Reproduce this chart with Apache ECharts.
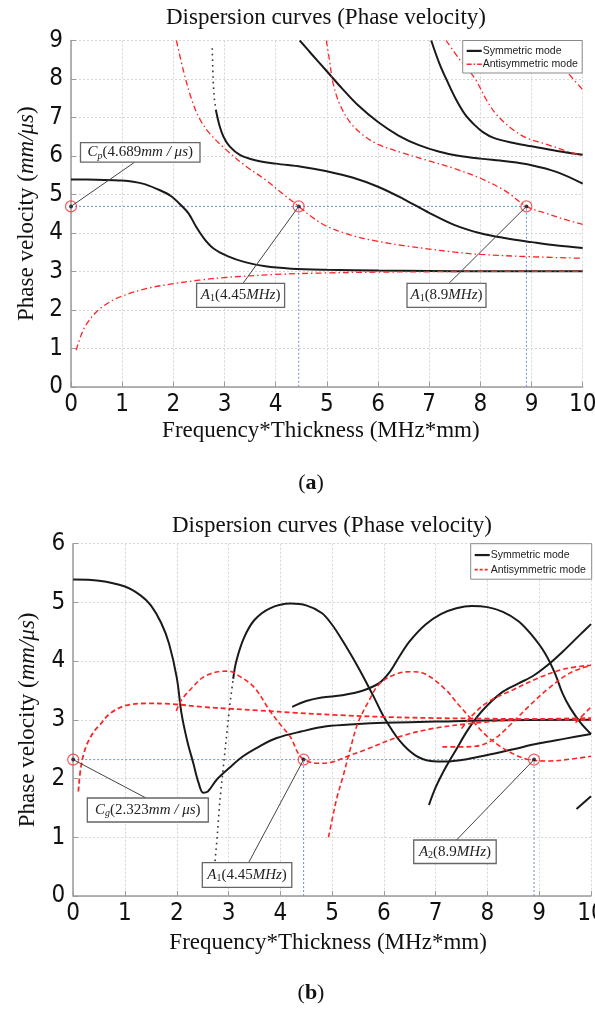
<!DOCTYPE html>
<html><head><meta charset="utf-8">
<script src="https://cdn.jsdelivr.net/npm/echarts@6/dist/echarts.min.js"></script>
<style>html,body{margin:0;padding:0;background:#fff}#c{width:595px;height:1014px}</style>
</head><body><div id="c"></div>
<script>
// ---------------- DATA (a) ----------------
const xTicks = [0,1,2,3,4,5,6,7,8,9,10];
const aSym0 = [[0,5.39],[0.5,5.38],[1,5.36],[1.4,5.28],[1.7,5.13],[1.95,4.96],[2.15,4.72],[2.3,4.5],[2.45,4.15],[2.62,3.82],[2.8,3.58],[3.07,3.39],[3.4,3.24],[3.8,3.13],[4.3,3.07],[5,3.04],[6,3.02],[7,3.01],[8,3.0],[10,3.0]];
const aSym1Sparse = [[2.76,8.8],[2.77,8.3],[2.78,7.9],[2.8,7.5],[2.83,7.2]];
const aSym1 = [[2.83,7.2],[2.9,6.8],[2.98,6.5],[3.1,6.25],[3.3,6.03],[3.6,5.89],[4,5.8],[4.5,5.72],[5,5.6],[5.5,5.44],[6,5.2],[6.5,4.88],[7,4.52],[7.5,4.2],[8,3.99],[8.5,3.86],[9,3.76],[9.5,3.67],[10,3.61]];
const aSym2 = [[4.47,9],[4.7,8.65],[5.0,8.2],[5.3,7.75],[5.6,7.33],[6.0,6.88],[6.4,6.53],[6.8,6.28],[7.2,6.11],[7.6,6.0],[8,5.93],[8.5,5.86],[9,5.76],[9.5,5.58],[10,5.28]];
const aSym3 = [[7.04,9],[7.2,8.4],[7.35,7.95],[7.52,7.48],[7.7,7.08],[7.89,6.8],[8.05,6.62],[8.26,6.47],[8.6,6.35],[9,6.25],[9.5,6.13],[10,6.03]];
const aAnti0 = [[0.1,0.95],[0.2,1.35],[0.3,1.62],[0.5,1.95],[0.75,2.2],[1,2.36],[1.5,2.56],[2,2.68],[2.5,2.77],[3,2.84],[4,2.92],[5,2.96],[6,2.98],[7,2.99],[8,3.0],[10,3.0]];
const aAnti1 = [[2.06,9],[2.2,8.2],[2.35,7.5],[2.5,7.0],[2.7,6.6],[3.0,6.2],[3.4,5.75],[3.8,5.38],[4.2,4.95],[4.45,4.69],[4.7,4.42],[5.0,4.17],[5.5,3.93],[6,3.78],[6.5,3.67],[7,3.58],[7.5,3.5],[8,3.44],[9,3.38],[10,3.34]];
const aAnti2 = [[4.99,9],[5.05,8.5],[5.12,7.9],[5.25,7.35],[5.45,6.88],[5.7,6.55],[6.0,6.3],[6.5,6.07],[7,5.87],[7.5,5.67],[8,5.42],[8.5,5.08],[8.9,4.69],[9.3,4.5],[9.7,4.33],[10,4.22]];
const aAnti3 = [[7.33,9],[7.6,8.5],[7.9,8.0],[8.1,7.5],[8.3,7.1],[8.6,6.72],[8.9,6.47],[9.3,6.3],[9.7,6.12],[10,6.0]];
const aAnti4 = [[9.3,9],[9.5,8.55],[9.7,8.18],[10,7.72]];
const aMarkX = [0, 4.45, 8.9];
const aMarkV = 4.689;

// ---------------- DATA (b) ----------------
const bSym0 = [[0,5.39],[0.5,5.37],[1,5.27],[1.3,5.12],[1.5,4.95],[1.7,4.65],[1.85,4.3],[2.0,3.72],[2.09,3.12],[2.2,2.65],[2.32,2.26],[2.42,1.93],[2.51,1.76],[2.6,1.78],[2.77,1.98],[3.0,2.17],[3.28,2.38],[3.6,2.55],[3.93,2.69],[4.4,2.8],[4.89,2.89],[5.5,2.93],[6,2.95],[7,2.97],[8,2.99],[10,3.0]];
const bSym1Sparse = [[2.73,0.5],[2.78,1.0],[2.83,1.6],[2.9,2.2],[2.97,2.8],[3.03,3.3],[3.09,3.7]];
const bSym1 = [[3.09,3.7],[3.15,4.0],[3.3,4.4],[3.5,4.7],[3.8,4.9],[4.2,4.98],[4.5,4.95],[4.8,4.82],[5.0,4.62],[5.2,4.35],[5.5,3.9],[5.8,3.4],[6.0,3.05],[6.3,2.65],[6.6,2.4],[6.9,2.3],[7.2,2.29],[7.6,2.33],[8,2.4],[8.5,2.5],[9,2.6],[9.5,2.68],[10,2.76]];
const bSym2 = [[4.23,3.22],[4.5,3.32],[4.8,3.38],[5.2,3.42],[5.6,3.5],[5.9,3.62],[6.1,3.8],[6.3,4.08],[6.5,4.34],[6.8,4.62],[7.1,4.8],[7.4,4.9],[7.7,4.94],[8.0,4.92],[8.3,4.84],[8.6,4.68],[8.85,4.45],[9.1,4.15],[9.3,3.8],[9.45,3.45],[9.6,3.2],[9.8,2.95],[10,2.76]];
const bSym3 = [[6.87,1.55],[7.0,1.85],[7.2,2.2],[7.4,2.5],[7.6,2.8],[7.8,3.05],[8.0,3.25],[8.3,3.48],[8.6,3.62],[8.9,3.76],[9.2,3.96],[9.5,4.2],[9.8,4.46],[10,4.63]];
const bSym4 = [[9.72,1.48],[10,1.7]];
const bAnti0 = [[0.1,1.78],[0.15,2.2],[0.25,2.55],[0.4,2.8],[0.52,2.92],[0.7,3.1],[1.0,3.24],[1.4,3.28],[1.9,3.27],[2.5,3.22],[3,3.19],[3.6,3.16],[4.3,3.12],[5.15,3.08],[6,3.05],[7,3.03],[8,3.02],[9,3.01],[10,3.0]];
const bAnti1 = [[1.99,3.15],[2.1,3.35],[2.3,3.55],[2.5,3.72],[2.8,3.82],[3.0,3.83],[3.2,3.75],[3.5,3.55],[3.8,3.15],[4.0,2.92],[4.2,2.7],[4.35,2.42],[4.45,2.33],[4.7,2.26],[5.0,2.28],[5.3,2.38],[5.64,2.49],[6.29,2.71],[6.93,2.85],[7.7,2.94],[8.53,3.0],[9.3,3.02],[10,3.03]];
const bAnti2 = [[4.93,1.0],[5.0,1.3],[5.1,1.7],[5.2,2.0],[5.35,2.5],[5.5,2.95],[5.72,3.34],[5.9,3.6],[6.2,3.77],[6.5,3.82],[6.8,3.78],[7.2,3.51],[7.4,3.3],[7.65,3.05],[7.9,2.8],[8.16,2.6],[8.5,2.42],[8.81,2.32],[9.2,2.3],[9.6,2.33],[10,2.38]];
const bAnti3 = [[7.13,2.54],[7.5,2.54],[7.77,2.55],[8.09,2.65],[8.4,2.88],[8.81,3.24],[9.2,3.55],[9.6,3.8],[10,3.93]];
const bAnti4 = [[7.5,2.85],[7.68,3.05],[8.0,3.3],[8.49,3.51],[9.0,3.72],[9.5,3.87],[10,3.93]];
const bAnti5 = [[9.7,2.95],[10,3.22]];
const bMarkX = [0, 4.45, 8.9];
const bMarkV = 2.323;

// ---------------- STYLE ----------------
const SERIF = '"Liberation Serif","Times New Roman",serif';
const TICKFONT = '"Liberation Sans Narrow","DejaVu Sans Condensed","Liberation Sans",sans-serif';
const BLACK = '#1a1a1a', RED = '#ff2424', BLUE = '#6b8fd0';
const SYM = 'Symmetric mode', ANTI = 'Antisymmetric mode';

function symLine(name, data, gi) {
  return {type:'line', name, data, xAxisIndex:gi, yAxisIndex:gi, symbol:'none', showSymbol:false,
    smooth:0.35, silent:true,
    lineStyle:{color:BLACK, width:2}, itemStyle:{color:BLACK}};
}
function antiLine(data, gi, dash, width) {
  return {type:'line', name:ANTI, data, xAxisIndex:gi, yAxisIndex:gi, symbol:'none', showSymbol:false,
    smooth:0.35, silent:true,
    lineStyle:{color:RED, width, type:dash}, itemStyle:{color:RED}};
}
function sparse(data, gi) {
  return {type:'line', name:'sparse', data, xAxisIndex:gi, yAxisIndex:gi, symbol:'none', silent:true,
    lineStyle:{color:'#333', width:1.6, type:[1.6,4]}};
}
function guides(markX, v, gi) {
  const out = [];
  const hx = markX[markX.length-1];
  out.push({type:'line', name:'guide', data:[[markX[0],v],[hx,v]], xAxisIndex:gi, yAxisIndex:gi, symbol:'none', silent:true, z:1,
    lineStyle:{color:BLUE, width:1, type:[2,2]}});
  markX.slice(1).forEach(x => out.push({type:'line', name:'guide', data:[[x,0],[x,v]], xAxisIndex:gi, yAxisIndex:gi, symbol:'none', silent:true, z:1,
    lineStyle:{color:BLUE, width:1, type:[2,2]}}));
  out.push({type:'scatter', name:'mark', data:markX.map(x=>[x,v]), xAxisIndex:gi, yAxisIndex:gi, symbol:'circle', symbolSize:11, silent:true, z:5,
    itemStyle:{color:'rgba(255,255,255,0)', borderColor:'#ff3030', borderWidth:1.2}});
  out.push({type:'scatter', name:'dot', data:markX.map(x=>[x,v]), xAxisIndex:gi, yAxisIndex:gi, symbol:'circle', symbolSize:4, silent:true, z:6,
    itemStyle:{color:'#111'}});
  return out;
}

function xAxisCfg(gi, nameGap, shift) {
  return {type:'value', gridIndex:gi, min:0, max:10, interval:1,
    name:'Frequency*Thickness (MHz*mm)', nameLocation:'middle', nameGap,
    nameTextStyle:{fontFamily:SERIF, fontSize:23, color:'#111', padding:[0, shift, 0, 0]},
    axisLine:{show:true, onZero:false, lineStyle:{color:'#9a9a9a', width:1.5}},
    axisTick:{show:true, inside:true, length:5, lineStyle:{color:'#9a9a9a'}},
    axisLabel:{fontFamily:TICKFONT, fontSize:24, color:'#111', margin:6, hideOverlap:false},
    splitLine:{show:true, lineStyle:{color:'#d4d4d4', type:[2,2], width:1}}};
}
function yAxisCfg(gi, max, nameGap) {
  return {type:'value', gridIndex:gi, min:0, max, interval:1,
    name:'{n|Phase velocity (}{i|mm/μs}{n|)}', nameLocation:'middle', nameGap, nameRotate:90,
    nameTextStyle:{rich:{n:{fontFamily:SERIF, fontSize:23, color:'#111'}, i:{fontFamily:SERIF, fontSize:23, fontStyle:'italic', color:'#111'}}},
    axisLine:{show:true, lineStyle:{color:'#9a9a9a', width:1.5}},
    axisTick:{show:true, inside:true, length:5, lineStyle:{color:'#9a9a9a'}},
    axisLabel:{fontFamily:TICKFONT, fontSize:24, color:'#111', margin:8},
    splitLine:{show:true, lineStyle:{color:'#d4d4d4', type:[2,2], width:1}}};
}

const series = [
  symLine(SYM, aSym0, 0), sparse(aSym1Sparse, 0), symLine(SYM, aSym1, 0), symLine(SYM, aSym2, 0), symLine(SYM, aSym3, 0),
  antiLine(aAnti0, 0, [6,3,1.5,3], 1.3), antiLine(aAnti1, 0, [6,3,1.5,3], 1.3), antiLine(aAnti2, 0, [6,3,1.5,3], 1.3),
  antiLine(aAnti3, 0, [6,3,1.5,3], 1.3), antiLine(aAnti4, 0, [6,3,1.5,3], 1.3),
  ...guides(aMarkX, aMarkV, 0),
  symLine(SYM, bSym0, 1), sparse(bSym1Sparse, 1), symLine(SYM, bSym1, 1), symLine(SYM, bSym2, 1), symLine(SYM, bSym3, 1), symLine(SYM, bSym4, 1),
  antiLine(bAnti0, 1, [5,3], 1.8), antiLine(bAnti1, 1, [5,3], 1.6), antiLine(bAnti2, 1, [5,3], 1.6),
  antiLine(bAnti3, 1, [5,3], 1.6), antiLine(bAnti4, 1, [5,3], 1.6), antiLine(bAnti5, 1, [5,3], 1.6),
  ...guides(bMarkX, bMarkV, 1)
];

const option = {
  animation:false,
  backgroundColor:'#fff',
  grid:[{left:71, top:40.5, width:511.7, height:346.3, containLabel:false, outerBoundsMode:'none'},
        {left:73.2, top:543.7, width:517.8, height:352.3, containLabel:false, outerBoundsMode:'none'}],
  xAxis:[xAxisCfg(0, 33, 12), xAxisCfg(1, 35, 8)],
  yAxis:[yAxisCfg(0, 9, 32), yAxisCfg(1, 6, 34)],
  series
};

const chart = echarts.init(document.getElementById('c'), null, {renderer:'canvas'});
chart.setOption(option);

// ---------------- annotations ----------------
const richCallout = {
  i:{fontFamily:SERIF, fontSize:15, fontStyle:'italic', fill:'#222'},
  r:{fontFamily:SERIF, fontSize:15, fill:'#222'},
  s:{fontFamily:SERIF, fontSize:10, fontStyle:'italic', fill:'#222', padding:[7,0,0,0]},
  sr:{fontFamily:SERIF, fontSize:10, fill:'#222', padding:[7,0,0,0]}
};
function callout(gi, mx, mv, box, text, anchor) {
  const p = chart.convertToPixel({gridIndex:gi}, [mx, mv]);
  const [bx, by, bw, bh] = box;
  return [
    {type:'line', z:20, shape:{x1:anchor[0], y1:anchor[1], x2:p[0], y2:p[1]}, style:{stroke:'#444', lineWidth:1}},
    {type:'rect', z:21, shape:{x:bx, y:by, width:bw, height:bh}, style:{fill:'#fff', stroke:'#666', lineWidth:1.3}},
    {type:'text', z:22, x:bx+bw/2, y:by+bh/2, style:{text, rich:richCallout, align:'center', verticalAlign:'middle'}}
  ];
}
function label(x, y, text, size, extra) {
  return {type:'text', z:30, x, y, style:Object.assign({text, font:size+'px '+SERIF, fill:'#111', align:'center', verticalAlign:'middle'}, extra||{})};
}
// legend box drawn from series styles
function legendBox(x, y, w, h, antiDash, antiWidth) {
  const tf = '10.5px "Liberation Sans",Arial,sans-serif';
  const r1 = y + h*0.32, r2 = y + h*0.73;
  return [
    {type:'rect', z:40, shape:{x, y, width:w, height:h}, style:{fill:'#fff', stroke:'#8a8a8a', lineWidth:1}},
    {type:'line', z:41, shape:{x1:x+4, y1:r1, x2:x+19, y2:r1}, style:{stroke:BLACK, lineWidth:2.2}},
    {type:'text', z:41, x:x+20, y:r1, style:{text:SYM, font:tf, fill:'#222', align:'left', verticalAlign:'middle'}},
    {type:'line', z:41, shape:{x1:x+4, y1:r2, x2:x+19, y2:r2}, style:{stroke:RED, lineWidth:antiWidth, lineDash:antiDash}},
    {type:'text', z:41, x:x+20, y:r2, style:{text:ANTI, font:tf, fill:'#222', align:'left', verticalAlign:'middle'}}
  ];
}
const TITLE = 'Dispersion curves (Phase velocity)';
const capRich = {r:{fontFamily:SERIF, fontSize:22, fill:'#111'}, b:{fontFamily:SERIF, fontSize:22, fontWeight:'bold', fill:'#111'}};
const graphics = [
  label(326, 18, TITLE, 23),
  label(332, 526, TITLE, 23),
  label(311, 483, '{r|(}{b|a}{r|)}', 22, {rich:capRich}),
  label(311, 993, '{r|(}{b|b}{r|)}', 22, {rich:capRich}),
  ...legendBox(462.7, 40.5, 119.5, 32.5, [5,2,1.5,2], 1.3),
  ...legendBox(470.7, 543.7, 121, 35.5, [3,2], 1.8),
  ...callout(0, aMarkX[0], aMarkV, [80.5,142.7,119.5,19.5], '{i|C}{s|p}{r|(4.689}{i|mm / μs}{r|)}', [134.7,162.2]),
  ...callout(0, aMarkX[1], aMarkV, [196.6,283.3,88,24], '{i|A}{sr|1}{r|(4.45}{i|MHz}{r|)}', [243,283.3]),
  ...callout(0, aMarkX[2], aMarkV, [407,283.3,79,24], '{i|A}{sr|1}{r|(8.9}{i|MHz}{r|)}', [449,283.3]),
  ...callout(1, bMarkX[0], bMarkV, [87.3,798,121,24], '{i|C}{s|g}{r|(2.323}{i|mm / μs}{r|)}', [146,798]),
  ...callout(1, bMarkX[1], bMarkV, [202.3,862.7,89.5,24.6], '{i|A}{sr|1}{r|(4.45}{i|MHz}{r|)}', [248.6,862.7]),
  ...callout(1, bMarkX[2], bMarkV, [413.7,840,82.5,23.5], '{i|A}{sr|2}{r|(8.9}{i|MHz}{r|)}', [456.5,840])
];
chart.setOption({graphic:graphics});
</script></body></html>
